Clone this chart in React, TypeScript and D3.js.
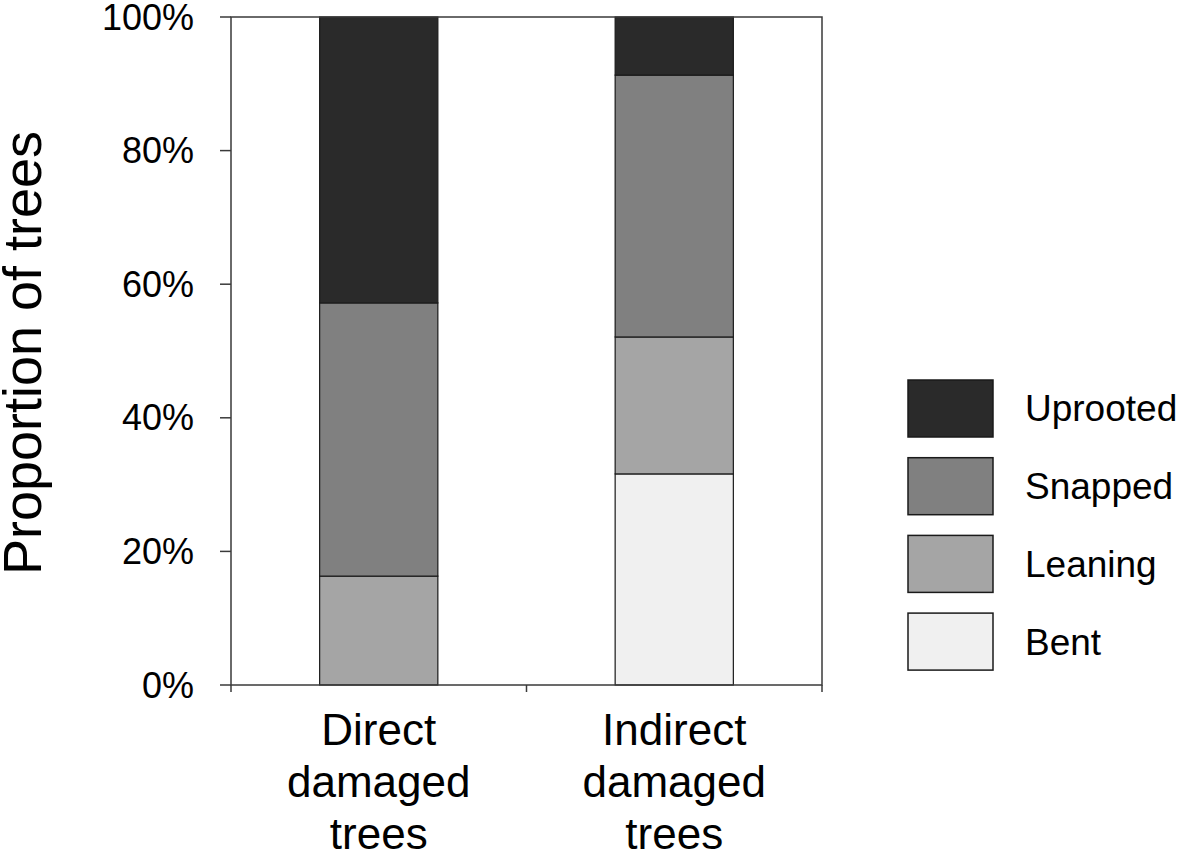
import React from "react";
import * as d3 from "d3";

const categories = ["Direct damaged trees", "Indirect damaged trees"];
const categoryLines = [["Direct", "damaged", "trees"], ["Indirect", "damaged", "trees"]];
const seriesNames = ["Bent", "Leaning", "Snapped", "Uprooted"];
const bent = [0, 31.6];
const leaning = [16.3, 20.5];
const snapped = [40.9, 39.2];
const uprooted = [42.8, 8.7];
const yTicks = [0, 20, 40, 60, 80, 100];
const colors: Record<string, string> = {
  Bent: "#f0f0f0",
  Leaning: "#a5a5a5",
  Snapped: "#808080",
  Uprooted: "#2a2a2a",
};
const legendOrder = ["Uprooted", "Snapped", "Leaning", "Bent"];

const W = 1181;
const H = 853;
const M = { left: 231, right: 822, top: 17, bottom: 685 };
const FONT = "'Liberation Sans', Arial, sans-serif";

export default function App() {
  const rows = categories.map((c, i) => ({
    cat: c,
    Bent: bent[i],
    Leaning: leaning[i],
    Snapped: snapped[i],
    Uprooted: uprooted[i],
  }));
  const stack = d3.stack<any>().keys(seriesNames)(rows);
  const x = d3.scaleBand().domain(categories).range([M.left, M.right]).paddingInner(0).paddingOuter(0);
  const y = d3.scaleLinear().domain([0, 100]).range([M.bottom, M.top]);
  const bw = x.bandwidth() * 0.4;
  const boundaries = [M.left, ...categories.map((c) => (x(c) as number) + x.bandwidth())];

  return (
    <svg width={W} height={H} style={{ position: "absolute", left: 0, top: 0, background: "#fff" }} fontFamily={FONT}>
      <rect x={0} y={0} width={W} height={H} fill="#fff" />
      {/* bars */}
      {stack.map((layer) => (
        <g key={layer.key}>
          {layer.map((d, i) => {
            const h = y(d[0]) - y(d[1]);
            if (h <= 0.01) return null;
            const cx = (x(categories[i]) as number) + x.bandwidth() / 2;
            return (
              <rect
                key={i}
                x={cx - bw / 2}
                y={y(d[1])}
                width={bw}
                height={h}
                fill={colors[layer.key]}
                stroke="#1a1a1a"
                strokeWidth={1.2}
              />
            );
          })}
        </g>
      ))}
      {/* frame */}
      <rect
        x={M.left}
        y={M.top}
        width={M.right - M.left}
        height={M.bottom - M.top}
        fill="none"
        stroke="#3a3a3a"
        strokeWidth={1.5}
      />
      {/* y ticks */}
      {yTicks.map((t) => (
        <g key={t}>
          <line x1={M.left - 11} x2={M.left} y1={y(t)} y2={y(t)} stroke="#3a3a3a" strokeWidth={1.5} />
          <text x={194} y={y(t)} dy="0.35em" textAnchor="end" fontSize={36} fill="#000">
            {t}%
          </text>
        </g>
      ))}
      {/* x ticks */}
      {boundaries.map((b, i) => (
        <line key={i} x1={b} x2={b} y1={M.bottom} y2={M.bottom + 7} stroke="#3a3a3a" strokeWidth={1.5} />
      ))}
      {/* x labels */}
      {categoryLines.map((lines, i) => {
        const cx = (x(categories[i]) as number) + x.bandwidth() / 2;
        return (
          <text key={i} x={cx} textAnchor="middle" fontSize={44} fill="#000">
            {lines.map((l, j) => (
              <tspan key={j} x={cx} y={745 + j * 52}>
                {l}
              </tspan>
            ))}
          </text>
        );
      })}
      {/* y title */}
      <text
        transform={`translate(41, 353) rotate(-90)`}
        textAnchor="middle"
        fontSize={54}
        fill="#000"
      >
        Proportion of trees
      </text>
      {/* legend */}
      {legendOrder.map((k, i) => {
        const top = 380 + i * 77.7;
        return (
          <g key={k}>
            <rect x={908} y={top} width={85} height={57} fill={colors[k]} stroke="#1a1a1a" strokeWidth={1.5} />
            <text x={1025} y={top + 28.5} dy="0.35em" fontSize={37} fill="#000">
              {k}
            </text>
          </g>
        );
      })}
    </svg>
  );
}
